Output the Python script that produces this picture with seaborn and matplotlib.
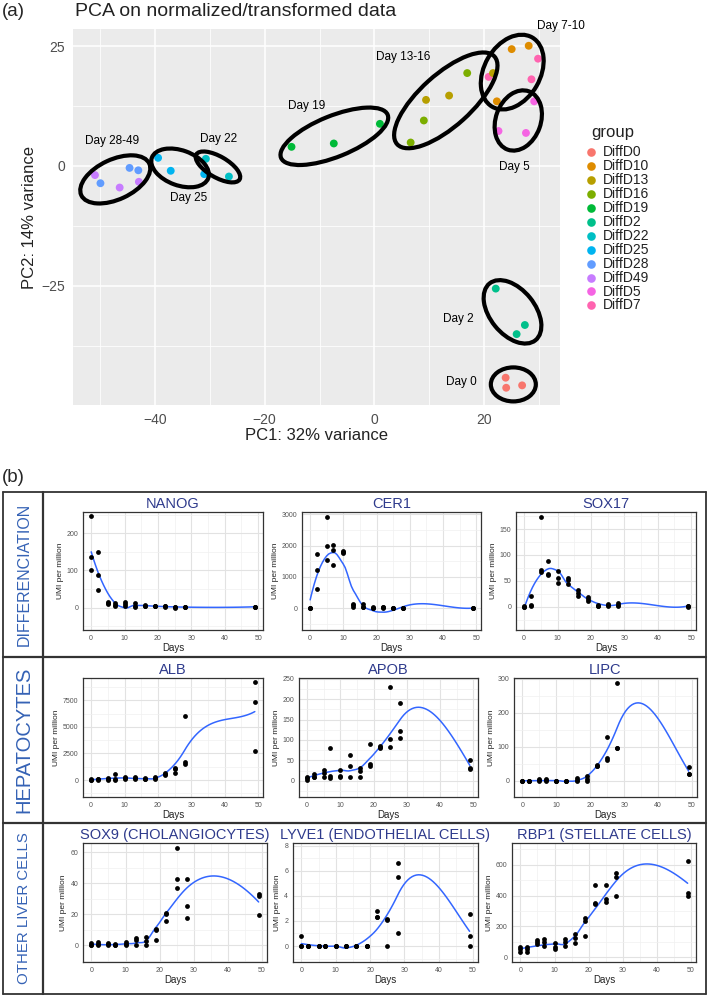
import numpy as np
import pandas as pd
import matplotlib
matplotlib.use("Agg")
import matplotlib.pyplot as plt
import seaborn as sns
from matplotlib.patches import Ellipse
import matplotlib.transforms as mtransforms
from matplotlib.lines import Line2D

# ---------------- DATA ----------------
# PCA (panel a)
pca_group = (["DiffD0"] * 3 + ["DiffD2"] * 3 + ["DiffD5"] * 3 + ["DiffD7"] * 3 +
             ["DiffD10"] * 3 + ["DiffD13"] * 3 + ["DiffD16"] * 3 + ["DiffD19"] * 3 +
             ["DiffD22"] * 2 + ["DiffD25"] * 3 + ["DiffD28"] * 3 + ["DiffD49"] * 3)
pc1 = [23.9, 24.0, 26.9, 22.1, 27.4, 25.9, 29.1, 22.6, 27.6, 29.8, 28.6, 20.8,
       25.0, 28.1, 22.3, 21.6, 9.4, 13.6, 16.9, 9.0, 6.6, -15.1, -7.4, 1.0,
       -30.7, -26.5, -39.4, -37.1, -31.0, -49.9, -44.6, -43.0, -50.9, -46.4, -42.9]
pc2 = [-44.2, -46.3, -45.8, -25.6, -33.2, -35.1, 13.5, 7.3, 6.9, 22.4, 18.1, 18.6,
       24.4, 25.1, 13.5, 19.4, 13.8, 14.7, 19.4, 9.5, 4.9, 4.0, 4.7, 8.8,
       1.5, -2.2, 1.7, -1.0, -1.7, -3.6, -0.4, -0.9, -1.9, -4.5, -3.3]
group_levels = ["DiffD0", "DiffD10", "DiffD13", "DiffD16", "DiffD19", "DiffD2",
                "DiffD22", "DiffD25", "DiffD28", "DiffD49", "DiffD5", "DiffD7"]
group_colors = ["#F8766D", "#DE8C00", "#B79F00", "#7CAE00", "#00BA38", "#00C08B",
                "#00BFC4", "#00B4F0", "#619CFF", "#C77CFF", "#F564E3", "#FF64B0"]

# cluster annotations: label, label position (data), ellipse centre (data), size (px), angle
cluster_labels = ["Day 0", "Day 2", "Day 5", "Day 7-10", "Day 13-16", "Day 19",
                  "Day 28-49", "Day 25", "Day 22"]
label_xy = [(15.9, -45.0), (15.3, -32.0), (25.5, -0.3), (33.9, 29.2), (5.3, 22.8),
            (-12.4, 12.6), (-47.8, 5.3), (-33.9, -6.7), (-28.4, 5.7)]
ellipse_xy = [(25.3, -45.6), (25.15, -30.45), (26.2, 9.5), (25.1, 19.6), (13.0, 13.7),
              (-7.3, 6.2), (-47.2, -2.8), (-35.4, -0.4), (-28.5, -0.2)]
ellipse_wh = [(45, 34), (73, 45), (62, 45), (80, 56), (131, 52), (115, 41),
              (75, 40), (60, 35), (50, 21)]
ellipse_angle = [0, -51, 70, 60, 42, 22, 25, -20, -30]

# gene expression (panel b)
days = [0] * 3 + [2] * 3 + [5] * 3 + [7] * 3 + [10] * 3 + [13] * 3 + [16] * 3 + \
       [19] * 3 + [22] * 3 + [25] * 3 + [28] * 3 + [49] * 3
nanog = [245, 135, 100, 149, 88, 48, 14, 12, 11, 13, 6, 5, 16, 10, 4, 13, 4, 3,
         6, 5, 4, 5, 4, 4, 4, 4, 3, 1, 1, 0, 3, 2, 1, 3, 2, 2]
cer1 = [0, 5, 10, 1737, 1210, 632, 2895, 2000, 1547, 2030, 1863, 1368, 1820, 1780, 1750,
        137, 95, 53, 137, 53, 32, 30, 25, 20, 53, 30, 10, 20, 15, 10, 5, 0, 0, 10, 5, 0]
sox17 = [0, 1, 0, 20, 3, 2, 173, 70, 67, 88, 64, 61, 69, 55, 45, 56, 51, 43,
         33, 26, 21, 18, 14, 11, 3, 2, 2, 6, 3, 1, 8, 3, 1, 2, 1, 0]
alb = [60, 20, 0, 90, 60, 40, 190, 60, 40, 560, 60, 40, 310, 200, 125, 310, 150, 60,
       190, 100, 60, 310, 150, 60, 620, 560, 500, 1160, 1030, 630, 6020, 1690, 1500,
       9180, 7330, 2700]
apob = [10, 6, 2, 16, 10, 8, 27, 19, 10, 80, 11, 7, 26, 11, 8, 64, 37, 9,
        32, 24, 8, 90, 40, 35, 86, 82, 80, 231, 102, 82, 190, 122, 104, 50, 32, 29]
lipc = [1, 0, 0, 0, 0, 0, 5, 2, 0, 6, 2, 0, 1, 1, 0, 0, 0, 0,
        8, 3, 1, 15, 5, 1, 46, 44, 43, 130, 68, 61, 287, 98, 96, 40, 21, 20]
sox9 = [1.3, 0.5, 0, 2.2, 0.8, 0, 1.7, 0.6, 0, 0.6, 0.2, 0, 2.2, 0.9, 0, 4.5, 3.7, 0,
        5.6, 3.0, 0, 10.8, 10.0, 3.2, 20.9, 20.5, 15.5, 62.6, 42.6, 37.2,
        42.6, 25.6, 17.8, 32.9, 32.0, 19.4]
lyve1 = [0.82, 0, 0, 0, 0, 0, 0, 0, 0, 0, 0, 0, 0, 0, 0, 0, 0, 0,
         0, 0, 0, 0, 0, 0, 2.77, 2.34, 2.34, 2.18, 2.1, 0, 6.57, 5.53, 1.01, 2.58, 0.82, 0]
rbp1 = [69, 54, 37, 69, 54, 37, 110, 99, 84, 116, 101, 76, 95, 69, 54, 116, 101, 73,
        151, 123, 95, 252, 235, 138, 468, 345, 350, 468, 375, 360, 544, 518, 397,
        624, 414, 399]

gene_titles = ["NANOG", "CER1", "SOX17", "ALB", "APOB", "LIPC",
               "SOX9 (CHOLANGIOCYTES)", "LYVE1 (ENDOTHELIAL CELLS)", "RBP1 (STELLATE CELLS)"]
gene_values = [nanog, cer1, sox17, alb, apob, lipc, sox9, lyve1, rbp1]
gene_yticks = [[0, 100, 200], [0, 1000, 2000, 3000], [0, 50, 100, 150],
               [0, 2500, 5000, 7500], [0, 50, 100, 150, 200, 250], [0, 100, 200, 300],
               [0, 20, 40, 60], [0, 2, 4, 6, 8], [0, 200, 400, 600]]
gene_ylim = [(-60, 257), (-690, 3070), (-45, 183), (-1600, 9600), (-40, 252),
             (-47, 302), (-10.7, 66), (-1.27, 8.2), (-30, 740)]
row_labels = ["DIFFERENCIATION", "HEPATOCYTES", "OTHER LIVER CELLS"]

# ---------------- STYLE / LAYOUT ----------------
sns.set_style("white")
plt.rcParams["font.family"] = ["Liberation Sans", "DejaVu Sans"]

W, H = 709, 997
fig = plt.figure(figsize=(W / 100, H / 100), dpi=100)


def fax(l, t, r, b):
    return fig.add_axes([l / W, 1 - b / H, (r - l) / W, (b - t) / H])


# ---------------- PANEL (a) ----------------
ax = fax(73, 29, 560, 405)
pca_df = pd.DataFrame({"PC1": pc1, "PC2": pc2, "group": pca_group})
sns.scatterplot(data=pca_df, x="PC1", y="PC2", hue="group", hue_order=group_levels,
                palette=group_colors, s=32, linewidth=0, ax=ax, legend=False, zorder=3)
ax.set_xlim(-54.9, 33.8)
ax.set_ylim(-49.9, 28.6)
ax.set_facecolor("#EBEBEB")
for sp in ax.spines.values():
    sp.set_visible(False)
ax.set_xticks([-40, -20, 0, 20])
ax.set_yticks([-25, 0, 25])
ax.set_xticks([-50, -30, -10, 10, 30], minor=True)
ax.set_yticks([-37.5, -12.5, 12.5], minor=True)
ax.grid(True, which="major", color="white", lw=1.1)
ax.grid(True, which="minor", color="white", lw=0.55)
ax.set_axisbelow(True)
ax.tick_params(axis="both", which="major", length=3.5, width=0.9, color="#333333",
               labelsize=10, labelcolor="#4D4D4D", pad=2)
ax.tick_params(axis="both", which="minor", length=0)
ax.set_xlabel("PC1: 32% variance", fontsize=12, color="#222222", labelpad=1)
ax.set_ylabel("PC2: 14% variance", fontsize=12, color="#222222", labelpad=3)

for lab, (lx, ly), (ex, ey), (ew, eh), ang in zip(cluster_labels, label_xy, ellipse_xy,
                                                   ellipse_wh, ellipse_angle):
    tr = fig.dpi_scale_trans + mtransforms.ScaledTranslation(ex, ey, ax.transData)
    ax.add_patch(Ellipse((0, 0), ew / 100, eh / 100, angle=ang, transform=tr,
                         fill=False, edgecolor="black", lw=3.0, zorder=4))
    ax.text(lx, ly, lab, fontsize=8.5, ha="center", va="center", color="black",
            clip_on=False, zorder=5)

fig.text(75 / W, 1 - 12 / H, "PCA on normalized/transformed data", fontsize=14,
         color="#222222", ha="left", va="center")
fig.text(2 / W, 1 - 12 / H, "(a)", fontsize=13.5, ha="left", va="center")

# legend
fig.text(591 / W, 1 - 132 / H, "group", fontsize=12, color="#222222", ha="left",
         va="center")
for i, (g, c) in enumerate(zip(group_levels, group_colors)):
    yy = 1 - (152 + 13.95 * i) / H
    fig.add_artist(Line2D([591 / W], [yy], marker="o", color=c, markersize=6.2,
                          markeredgewidth=0, linestyle="none", transform=fig.transFigure))
    fig.text(603 / W, yy, g, fontsize=10, color="#222222", ha="left", va="center")


# ---------------- PANEL (b) ----------------
# loess (degree 2, span 0.75) with R's kd-tree vertices + cubic Hermite interpolation
def local_fit(x, y, x0, q):
    d = np.abs(x - x0)
    h = np.sort(d)[q - 1]
    w = np.clip(1 - (d / h) ** 3, 0, None) ** 3
    X = np.vstack([np.ones(len(x)), x - x0, (x - x0) ** 2]).T
    A = X.T @ (X * w[:, None])
    b = X.T @ (w * y)
    beta = np.linalg.lstsq(A, b, rcond=None)[0]
    return beta[0], beta[1]


def kd_vertices(x, span, cell=0.2):
    xs = np.sort(x)
    n = len(xs)
    fc = int(np.floor(n * span * cell))
    mu = 0.005 * (xs[-1] - xs[0])
    lo_b, hi_b = xs[0] - mu, xs[-1] + mu
    verts = {lo_b, hi_b}
    stack = [(0, n - 1, lo_b, hi_b)]
    while stack:
        l, u, a, b = stack.pop()
        if u - l + 1 <= fc:
            continue
        m = (l + u) // 2
        off = 0
        while l <= m + off < u:
            if xs[m + off] == xs[m + off + 1]:
                off = -off
                if off >= 0:
                    off += 1
            else:
                m = m + off
                break
        split = xs[m]
        if split == a or split == b:
            continue
        verts.add(split)
        stack.append((l, m, a, split))
        stack.append((m + 1, u, split, b))
    return np.array(sorted(verts))


def loess(x, y, xs, span=0.75):
    x = np.asarray(x, float)
    y = np.asarray(y, float)
    q = int(np.floor(len(x) * span))
    v = kd_vertices(x, span)
    fits = np.array([local_fit(x, y, v0, q) for v0 in v])
    out = []
    for x0 in xs:
        i = min(max(np.searchsorted(v, x0) - 1, 0), len(v) - 2)
        h = v[i + 1] - v[i]
        t = (x0 - v[i]) / h
        h00 = 2 * t ** 3 - 3 * t ** 2 + 1
        h10 = t ** 3 - 2 * t ** 2 + t
        h01 = -2 * t ** 3 + 3 * t ** 2
        h11 = t ** 3 - t ** 2
        out.append(h00 * fits[i, 0] + h10 * h * fits[i, 1] +
                   h01 * fits[i + 1, 0] + h11 * h * fits[i + 1, 1])
    return np.array(out)


panel_boxes = [
    (83, 512, 263, 630), (302, 512, 481, 630), (516, 512, 696, 630),
    (83, 678, 263, 797), (299, 678, 478, 797), (514, 678, 697, 797),
    (83, 843, 267, 962), (293, 843, 478, 962), (512, 843, 696, 962),
]
title_col = "#2E3A8C"

for k in range(9):
    l, t, r, b = panel_boxes[k]
    a = fax(l, t, r, b)
    df = pd.DataFrame({"Days": days, "UMI": gene_values[k]})
    xs = np.linspace(min(days), max(days), 80)
    fit = pd.DataFrame({"Days": xs, "UMI": loess(df["Days"], df["UMI"], xs)})
    sns.lineplot(data=fit, x="Days", y="UMI", ax=a, color="#3366FF", lw=1.1,
                 estimator=None, sort=False, zorder=2)
    sns.scatterplot(data=df, x="Days", y="UMI", ax=a, color="black", s=12,
                    linewidth=0, zorder=3)
    a.set_xlim(-2.45, 51.45)
    a.set_xticks([0, 10, 20, 30, 40, 50])
    a.set_xticks([5, 15, 25, 35, 45], minor=True)
    yt = gene_yticks[k]
    a.set_yticks(yt)
    step = yt[1] - yt[0]
    a.set_yticks([v + step / 2 for v in [yt[0] - step] + yt], minor=True)
    a.set_ylim(*gene_ylim[k])
    a.grid(True, which="major", color="#E2E2E2", lw=0.8)
    a.grid(True, which="minor", color="#F0F0F0", lw=0.5)
    a.set_axisbelow(True)
    for sp in a.spines.values():
        sp.set_color("#333333")
        sp.set_linewidth(0.9)
    a.tick_params(axis="both", which="major", length=2, width=0.5, color="#333333",
                  labelsize=5, labelcolor="#555555", pad=1.5)
    a.tick_params(axis="both", which="minor", length=0)
    a.set_xlabel("Days", fontsize=7, color="#222222", labelpad=1)
    a.set_ylabel("UMI per million", fontsize=6, color="#222222", labelpad=2)
    a.set_title(gene_titles[k], fontsize=10.5, color=title_col, pad=3)

fig.text(2 / W, 1 - 477 / H, "(b)", fontsize=13.5, ha="left", va="center")

line_kw = dict(color="#333333", transform=fig.transFigure)


def hline(y, x1, x2, lw):
    fig.add_artist(Line2D([x1 / W, x2 / W], [1 - y / H, 1 - y / H], lw=lw, **line_kw))


def vline(x, y1, y2, lw):
    fig.add_artist(Line2D([x / W, x / W], [1 - y1 / H, 1 - y2 / H], lw=lw, **line_kw))


hline(492, 3, 706, 1.3)
hline(994, 3, 706, 1.3)
hline(657, 3, 706, 1.6)
hline(823, 3, 706, 1.6)
vline(3, 492, 994, 1.3)
vline(706, 492, 994, 1.3)
vline(43, 492, 994, 1.6)

row_centres = [574, 740, 908]
row_fs = [11.5, 14.5, 10.8]
for lab, yc, fs in zip(row_labels, row_centres, row_fs):
    fig.text(24 / W, 1 - yc / H, lab, rotation=90, ha="center", va="center",
             fontsize=fs, color="#3562B5")

fig.savefig("out.png", dpi=100)
